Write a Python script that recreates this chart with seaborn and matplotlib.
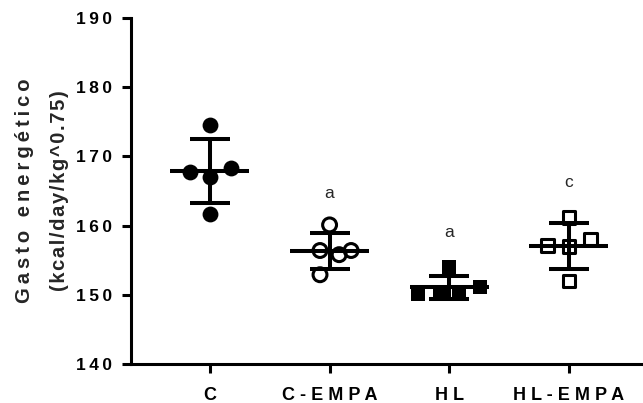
import matplotlib
matplotlib.use('Agg')
import matplotlib.pyplot as plt
import seaborn as sns
import numpy as np
import pandas as pd

# Data
groups = ['C', 'C-EMPA', 'HL', 'HL-EMPA']
c_vals = [174.6, 167.8, 168.3, 167.0, 161.7]
c_empa_vals = [160.1, 156.4, 155.8, 156.4, 152.9]
hl_vals = [154.0, 150.1, 150.1, 150.1, 151.1]
hl_empa_vals = [161.2, 157.1, 157.0, 158.1, 152.0]
letters = ['', 'a', 'a', 'c']
letter_y = [0, 164.6, 159.0, 166.3]

# horizontal spread of the points inside each column (layout only)
spread = [
    [0.0, -0.17, 0.18, 0.0, 0.0],
    [0.0, -0.08, 0.08, 0.18, -0.08],
    [0.0, -0.26, -0.08, 0.08, 0.26],
    [0.0, -0.18, 0.0, 0.18, 0.0],
]
markers = ['o', 'o', 's', 's']
filled = [True, False, True, False]

values = [c_vals, c_empa_vals, hl_vals, hl_empa_vals]

sns.set_style('ticks')
plt.rcParams['font.family'] = ['Liberation Sans', 'DejaVu Sans']


def spaced(s, gap=' '):
    # Prism-style letter spacing
    return gap.join(list(s))


fig = plt.figure(figsize=(6.43, 4.03), dpi=100)
ax = fig.add_axes([131 / 643, 1 - 364 / 403, (643 - 131) / 643, (364 - 18) / 403])

for i, (g, vals) in enumerate(zip(groups, values)):
    df = pd.DataFrame({'x': np.array(spread[i]) + i, 'y': vals})
    if filled[i]:
        sns.scatterplot(data=df, x='x', y='y', marker=markers[i], s=130 if markers[i] == 'o' else 95,
                        color='black', edgecolor='black', linewidth=0, ax=ax, zorder=3)
    else:
        sns.scatterplot(data=df, x='x', y='y', marker=markers[i], s=100 if markers[i] == 'o' else 80,
                        facecolor='none', edgecolor='black', linewidth=2.2, ax=ax, zorder=3)
    m = np.mean(vals)
    sd = np.std(vals, ddof=1)
    ax.hlines(m, i - 0.33, i + 0.33, color='black', linewidth=2.9, zorder=4)
    ax.errorbar(i, m, yerr=sd, fmt='none', ecolor='black', elinewidth=2.9,
                capsize=14.4, capthick=2.9, zorder=4)
    if letters[i]:
        ax.text(i, letter_y[i], letters[i], ha='center', va='center', fontsize=12.5)

ax.set_xlim(-0.66, 3.62)
ax.set_ylim(140, 190)
ax.set_xticks(range(len(groups)))
ax.set_xticklabels([spaced(g) for g in groups], fontsize=13, fontweight='bold')
ax.set_yticks(range(140, 191, 10))
ax.set_yticklabels([spaced(str(t), '\u2009') for t in range(140, 191, 10)], fontsize=12.5, fontweight='bold')
ax.set_xlabel('')
ax.set_ylabel(spaced('Gasto energético', '\u2009') + '\n' + spaced('(kcal/day/kg^0.75)', '\u200a'),
              fontsize=14.5, fontweight='bold', labelpad=5, linespacing=2.1)

for side in ['top', 'right']:
    ax.spines[side].set_visible(False)
for side in ['left', 'bottom']:
    ax.spines[side].set_linewidth(2.2)
    ax.spines[side].set_color('black')
ax.tick_params(axis='both', width=2.2, length=6.5, color='black', labelcolor='black')
ax.tick_params(axis='x', pad=10)
ax.tick_params(axis='y', pad=7)

fig.savefig('out.png', dpi=100)
